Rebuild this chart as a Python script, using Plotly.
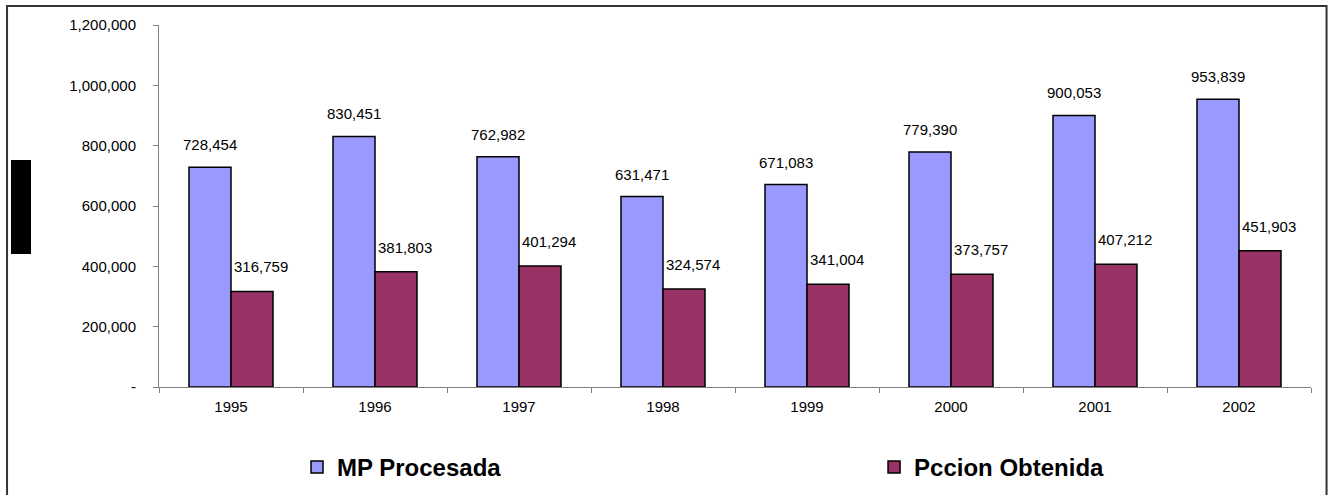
import plotly.graph_objects as go

# Annual volumes: raw material processed vs. production obtained
years = ["1995", "1996", "1997", "1998", "1999", "2000", "2001", "2002"]
mp_procesada = [728454, 830451, 762982, 631471, 671083, 779390, 900053, 953839]
pccion_obtenida = [316759, 381803, 401294, 324574, 341004, 373757, 407212, 451903]

y_tickvals = [0, 200000, 400000, 600000, 800000, 1000000, 1200000]
y_ticktext = ["-", "200,000", "400,000", "600,000", "800,000", "1,000,000", "1,200,000"]

FONT = "Arial, Liberation Sans, sans-serif"
LEGEND_FONT = dict(family=FONT, size=24, color="#000000", weight="bold")
TEXT_FONT = dict(family=FONT, size=15, color="#000000")

fig = go.Figure()
fig.add_trace(go.Bar(
    x=years, y=mp_procesada, name="MP Procesada", legend="legend",
    marker=dict(color="#9999FF", line=dict(color="#000000", width=1.5)),
))
fig.add_trace(go.Bar(
    x=years, y=pccion_obtenida, name="Pccion Obtenida", legend="legend2",
    marker=dict(color="#993366", line=dict(color="#000000", width=1.5)),
))

# Value labels above each bar (x given as category index)
annotations = []
for i, v in enumerate(mp_procesada):
    annotations.append(dict(
        x=i, y=v, xref="x", yref="y", text=f"{v:,}", showarrow=False,
        xshift=-21, yshift=12, yanchor="bottom", font=TEXT_FONT,
    ))
for i, v in enumerate(pccion_obtenida):
    annotations.append(dict(
        x=i, y=v, xref="x", yref="y", text=f"{v:,}", showarrow=False,
        xshift=30, yshift=14, yanchor="bottom", font=TEXT_FONT,
    ))

shapes = [
    # outer frame
    dict(type="rect", xref="paper", yref="paper",
         x0=-0.1319, x1=1.0135, y0=-0.35, y1=1.0525,
         line=dict(color="#333333", width=2), fillcolor="rgba(0,0,0,0)", layer="below"),
    # dark block on the left edge
    dict(type="rect", xref="paper", yref="paper",
         x0=-0.1285, x1=-0.1111, y0=0.3674, y1=0.6271,
         line=dict(width=0), fillcolor="#000000"),
]

fig.update_layout(
    width=1331, height=495,
    margin=dict(l=159, r=20, t=25, b=108, autoexpand=False),
    paper_bgcolor="#FFFFFF", plot_bgcolor="#FFFFFF",
    barmode="group", bargap=0.4167, bargroupgap=0,
    font=dict(family=FONT, size=15, color="#000000"),
    showlegend=True,
    legend=dict(
        orientation="h", x=0.1198, y=-0.16, xanchor="left", yanchor="top",
        font=LEGEND_FONT, bgcolor="rgba(0,0,0,0)",
    ),
    legend2=dict(
        orientation="h", x=0.6207, y=-0.16, xanchor="left", yanchor="top",
        font=LEGEND_FONT, bgcolor="rgba(0,0,0,0)",
    ),
    annotations=annotations,
    shapes=shapes,
    xaxis=dict(
        type="category", range=[-0.5, len(years) - 0.5],
        showline=True, linecolor="#808080", linewidth=1,
        ticks="outside", tickson="boundaries", ticklen=5, tickcolor="#808080",
        showgrid=False, tickfont=TEXT_FONT, zeroline=False, tickangle=0,
        ticklabelstandoff=6,
    ),
    yaxis=dict(
        range=[0, 1200000], tickvals=y_tickvals, ticktext=y_ticktext,
        showline=True, linecolor="#808080", linewidth=1,
        ticks="outside", ticklen=5, tickcolor="#808080",
        showgrid=False, zeroline=False, tickfont=TEXT_FONT,
        ticklabelstandoff=14,
    ),
)

fig.write_html("out.html")
